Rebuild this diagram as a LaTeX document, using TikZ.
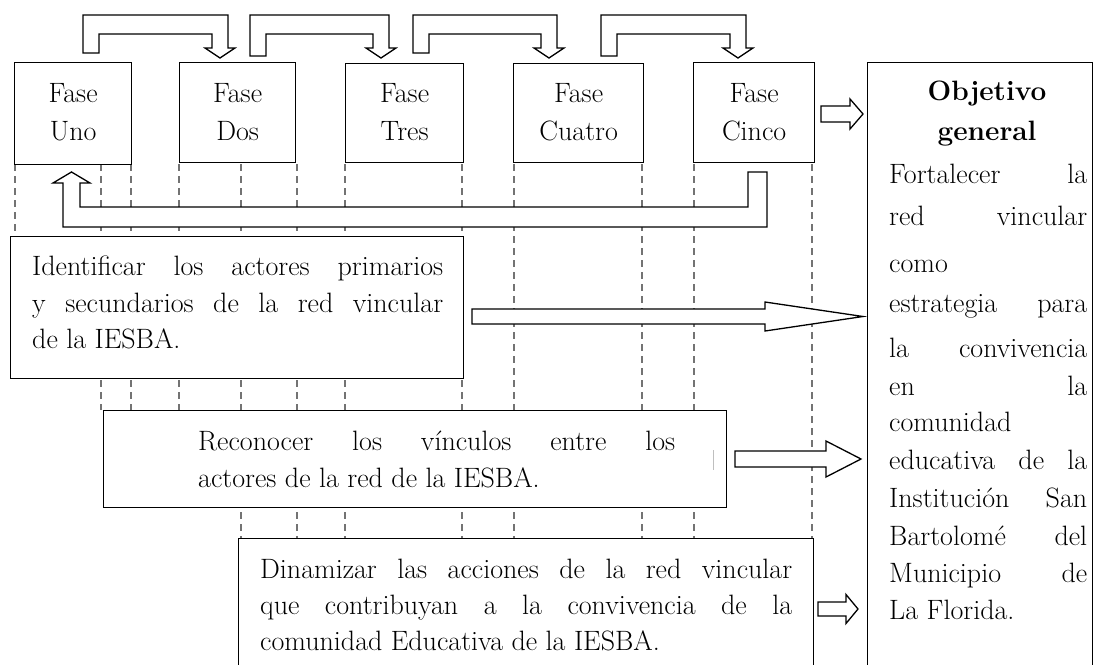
\documentclass[tikz,border=0pt]{standalone}
\usetikzlibrary{calc}
\newcommand\uarr[3]{% left leg x, right leg outer x, left leg bottom y
  \draw[barrow] (#1,#3) -- (#1,15) -- (#2,15) -- (#2,48) -- ({#2+7},48) -- ({#2-8},58)
    -- ({#2-23},48) -- ({#2-16},48) -- ({#2-16},34) -- ({#1+16},34) -- ({#1+16},#3) -- cycle;}
\newcommand\rarr[6]{% start x, head base x, tip x, centre y, shaft half, head half
  \draw[barrow] (#1,{#4-#5}) -- (#2,{#4-#5}) -- (#2,{#4-#6}) -- (#3,#4)
    -- (#2,{#4+#6}) -- (#2,{#4+#5}) -- (#1,{#4+#5}) -- cycle;}
\begin{document}
\begin{tikzpicture}[x=1pt,y=-1pt,
  box/.style={draw, line width=1.3pt, fill=white, inner sep=0pt, anchor=north west},
  txt/.style={inner sep=0pt, font=\fontsize{28}{37}\selectfont},
  btxt/.style={inner sep=0pt, font=\fontsize{28}{37}\selectfont\bfseries},
  guide/.style={draw=black!55, line width=1.2pt, dash pattern=on 7pt off 5pt},
  barrow/.style={draw, line width=1.3pt, fill=white, line join=miter},
]
\useasboundingbox (0,0) rectangle (1094,664);
\clip (0,0) rectangle (1094,664);

% dashed guide lines
\foreach \x/\yb in {15/236, 101/410, 131/410, 179/410, 241/538, 297/538, 345/538,
                    462/538, 514/538, 642/538, 694/538, 812/538}
  \draw[guide] (\x,164) -- (\x,\yb);

% phase boxes
\node[box, minimum width=117pt, minimum height=102pt] (p1) at (14,62) {};
\node[box, minimum width=116pt, minimum height=100pt] (p2) at (179,62) {};
\node[box, minimum width=118pt, minimum height=99pt]  (p3) at (345,63) {};
\node[box, minimum width=130pt, minimum height=99pt]  (p4) at (513,63) {};
\node[box, minimum width=121pt, minimum height=100pt] (p5) at (693,62) {};

\node[txt, anchor=base] (p1a) at (p1 |- 0,102) {Fase};
\node[txt, anchor=base] (p1b) at (p1 |- 0,140) {Uno};
\node[txt, anchor=base] (p2a) at (p2 |- 0,102) {Fase};
\node[txt, anchor=base] (p2b) at (p2 |- 0,140) {Dos};
\node[txt, anchor=base] (p3a) at (p3 |- 0,102) {Fase};
\node[txt, anchor=base] (p3b) at (p3 |- 0,140) {Tres};
\node[txt, anchor=base] (p4a) at (p4 |- 0,102) {Fase};
\node[txt, anchor=base] (p4b) at (p4 |- 0,140) {Cuatro};
\node[txt, anchor=base] (p5a) at (p5 |- 0,102) {Fase};
\node[txt, anchor=base] (p5b) at (p5 |- 0,140) {Cinco};

% U-shaped arrows between phases
\uarr{83}{228}{53}
\uarr{250}{389}{56}
\uarr{413}{557}{53}
\uarr{601}{746}{56}

% return arrow from Fase Cinco to Fase Uno
\draw[barrow] (63,227) -- (63,183) -- (53,183) -- (71.5,172) -- (90,183) -- (80,183)
  -- (80,207) -- (748,207) -- (748,172) -- (767,172) -- (767,227) -- cycle;

% objective box
\node[box, minimum width=225pt, minimum height=620pt] (obj) at (867,62) {};
\node[btxt, anchor=base] (o1) at (987,100) {Objetivo};
\node[btxt, anchor=base] (o2) at (987,140) {general};
\foreach \y/\t in {183/Fortalecer la, 225/red vincular, 312/estrategia para,
                   357/la convivencia, 395/en la, 469/educativa de la,
                   507/Institución San, 545/Bartolomé del, 582/Municipio de}
  \node[txt, anchor=base west] at (889,\y) {\makebox[198pt][s]{\t}};
\node[txt, anchor=base west] (o3) at (889,272) {como};
\node[txt, anchor=base west] (o4) at (889,431) {comunidad};
\node[txt, anchor=base west] (o5) at (889,619) {La Florida.};

% objective boxes (specific)
\node[box, minimum width=453pt, minimum height=142pt] (id) at (10,236) {};
\node[txt, anchor=base west] (id1) at (32,275) {\makebox[411pt][s]{Identificar los actores primarios}};
\node[txt, anchor=base west] (id2) at (32,312) {\makebox[411pt][s]{y secundarios de la red vincular}};
\node[txt, anchor=base west] (id3) at (32,348) {de la IESBA.};

\node[box, minimum width=623pt, minimum height=97pt] (rec) at (103,410) {};
\node[txt, anchor=base west] (rec1) at (198,450) {\makebox[477pt][s]{Reconocer los vínculos entre los}};
\node[txt, anchor=base west] (rec2) at (198,487) {actores de la red de la IESBA.};
\draw[black!25, line width=0.8pt] (713,450) -- (713,470);

\node[box, minimum width=575pt, minimum height=140pt] (din) at (238,538) {};
\node[txt, anchor=base west] (din1) at (260,578) {\makebox[532pt][s]{Dinamizar las acciones de la red vincular}};
\node[txt, anchor=base west] (din2) at (260,614) {\makebox[532pt][s]{que contribuyan a la convivencia de la}};
\node[txt, anchor=base west] (din3) at (260,650) {comunidad Educativa de la IESBA.};

% block arrows to the objective
\rarr{821}{850}{863}{114}{8}{15}
\rarr{472}{765}{863}{316.5}{7.5}{14.5}
\rarr{735}{826}{861}{459}{8}{18}
\rarr{818}{846}{858}{609}{7}{14.5}
\end{tikzpicture}
\end{document}
